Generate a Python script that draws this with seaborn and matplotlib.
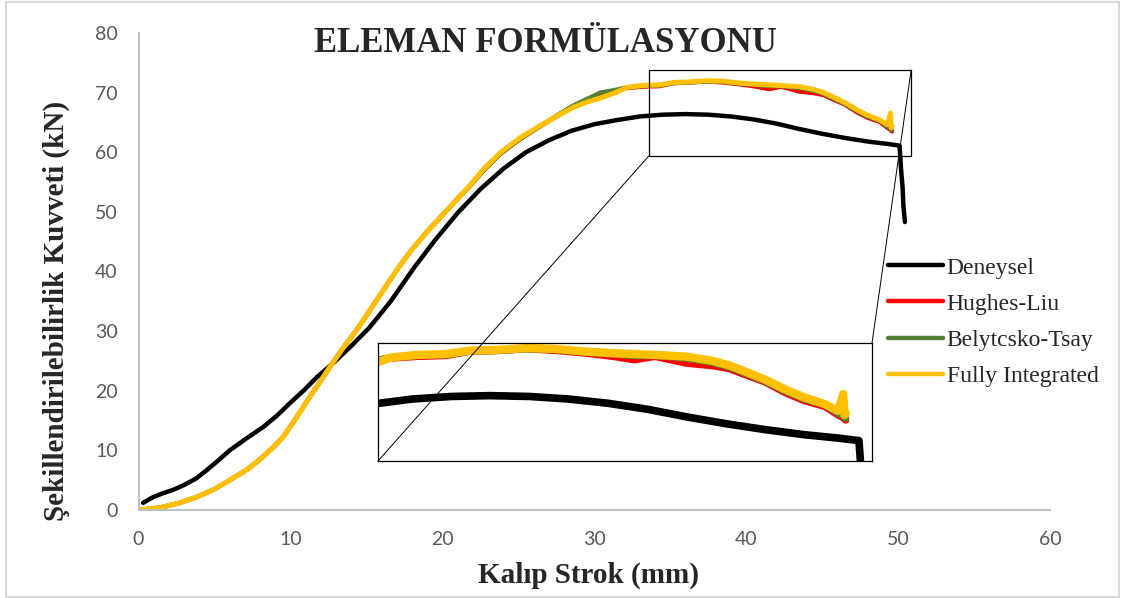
import numpy as np
import pandas as pd
import matplotlib
matplotlib.use("Agg")
import matplotlib.pyplot as plt
from matplotlib.lines import Line2D
from matplotlib.patches import Rectangle, ConnectionPatch
import seaborn as sns

# --- measured force–stroke curve ---------------------------------------------
deneysel_x = [0.3, 1.0, 1.6, 2.3, 3.0, 3.8, 4.5, 5.2, 6.0, 7.1, 8.2, 9.1, 10.0,
              10.9, 11.75, 12.8, 14.0, 15.2, 16.6, 18.1, 19.5, 21.0, 22.5, 24.0,
              25.5, 27.0, 28.5, 30.0, 31.5, 33.0, 34.5, 36.0, 37.5, 39.0, 40.5,
              42.0, 43.5, 45.0, 46.5, 48.0, 49.3, 50.1, 50.15, 50.2, 50.3, 50.35,
              50.45]
deneysel_y = [1.2, 2.2, 2.8, 3.4, 4.2, 5.3, 6.7, 8.2, 10.0, 12.0, 13.9, 15.8, 18.0,
              20.1, 22.3, 24.6, 27.5, 30.6, 35.0, 40.5, 45.2, 49.8, 53.8, 57.2,
              60.0, 62.0, 63.6, 64.7, 65.4, 66.0, 66.3, 66.4, 66.3, 66.0, 65.5,
              64.8, 63.9, 63.1, 62.4, 61.8, 61.4, 61.1, 59.0, 57.0, 54.0, 51.0,
              48.3]

# --- simulated curves (shared stroke positions) -------------------------------
sim_x = [0.0, 0.8, 1.6, 2.7, 3.85, 5.0, 6.0, 7.1, 8.0, 8.9, 9.5, 10.0, 10.6, 11.2,
         11.9, 12.6, 13.5, 14.45, 15.7, 17.1, 18.0, 19.0, 20.2, 21.0, 21.8, 22.8,
         23.8, 25.1, 26.4, 27.5, 28.6, 29.5, 30.4, 31.3, 32.2, 33.2, 34.3, 35.2,
         36.3, 37.4, 38.5, 39.6, 40.7, 41.5, 42.3, 43.5, 44.5, 45.1, 45.7, 46.5,
         47.3, 48.0, 48.8, 49.3, 49.5, 49.55, 49.6]

fully_y = [0.0, 0.2, 0.5, 1.2, 2.2, 3.5, 5.0, 6.7, 8.5, 10.6, 12.2, 14.0, 16.3,
           18.7, 21.3, 24.0, 27.3, 30.5, 35.3, 40.6, 43.7, 46.7, 50.0, 52.2, 54.4,
           57.4, 59.9, 62.4, 64.4, 66.0, 67.5, 68.4, 69.1, 69.9, 70.9, 71.2, 71.3,
           71.7, 71.8, 72.0, 71.9, 71.6, 71.4, 71.3, 71.2, 71.0, 70.5, 70.0, 69.3,
           68.3, 67.1, 66.2, 65.4, 64.6, 66.6, 64.1, 64.3]

belytschko_y = [0.0, 0.2, 0.5, 1.2, 2.2, 3.5, 5.0, 6.7, 8.5, 10.6, 12.2, 14.0, 16.3,
                18.7, 21.3, 24.0, 27.3, 30.5, 35.3, 40.6, 43.7, 46.7, 50.0, 52.2, 54.3,
                57.2, 59.7, 62.2, 64.3, 66.1, 67.8, 68.9, 70.0, 70.4, 70.9, 71.1, 71.2,
                71.6, 71.7, 71.9, 71.8, 71.5, 71.3, 71.1, 71.1, 70.8, 70.3, 69.8, 69.1,
                68.1, 66.9, 66.0, 65.3, 64.3, 64.0, 63.8, 63.7]

hughes_y = [0.0, 0.2, 0.5, 1.2, 2.2, 3.5, 5.0, 6.7, 8.5, 10.6, 12.2, 14.0, 16.3,
            18.7, 21.3, 24.0, 27.3, 30.5, 35.3, 40.6, 43.7, 46.7, 50.0, 52.2, 54.3,
            57.2, 59.7, 62.2, 64.3, 66.0, 67.7, 68.8, 69.9, 70.3, 70.8, 71.0, 71.1,
            71.6, 71.7, 71.9, 71.7, 71.4, 71.0, 70.6, 71.0, 70.2, 69.9, 69.6, 68.9,
            68.0, 66.7, 65.8, 65.1, 64.1, 63.8, 63.6, 63.5]

series_names = ["Deneysel", "Hughes-Liu", "Belytcsko-Tsay", "Fully Integrated"]
series_colors = ["#000000", "#ff0000", "#548235", "#ffc000"]

x_ticks = [0, 10, 20, 30, 40, 50, 60]
y_ticks = [0, 10, 20, 30, 40, 50, 60, 70, 80]

# zoom window marked on the main axes and the limits of the magnified view
zoom_box_x = (33.6, 50.86)
zoom_box_y = (59.4, 73.8)
inset_xlim = (31.7, 50.6)
inset_ylim = (58.7, 72.6)

frames = [pd.DataFrame({"strok": deneysel_x, "kuvvet": deneysel_y, "seri": series_names[0]})]
for name, ys in zip(series_names[1:], [hughes_y, belytschko_y, fully_y]):
    frames.append(pd.DataFrame({"strok": sim_x, "kuvvet": ys, "seri": name}))
df = pd.concat(frames, ignore_index=True)

sns.set_style("white")
plt.rcParams["font.family"] = ["Liberation Serif", "DejaVu Serif"]

W, H = 1126, 598
fig = plt.figure(figsize=(W / 100, H / 100), dpi=100)
ax = fig.add_axes([138.5 / W, 1 - 510 / H, (1050 - 138.5) / W, (510 - 33) / H])

main_lw = [3.2, 3.2, 3.2, 3.6]
for name, color, lw in zip(series_names, series_colors, main_lw):
    sns.lineplot(data=df[df["seri"] == name], x="strok", y="kuvvet", color=color,
                 linewidth=lw, sort=False, estimator=None, ax=ax, legend=False)

ax.set_xlim(0, 60)
ax.set_ylim(0, 80)
ax.set_xticks(x_ticks)
ax.set_yticks(y_ticks)
tick_font = {"family": "Lato", "size": 14, "color": "#595959"}
ax.set_xticklabels([str(t) for t in x_ticks], fontdict=tick_font)
ax.set_yticklabels([str(t) for t in y_ticks], fontdict=tick_font)
ax.tick_params(axis="both", length=0, pad=15)
for side in ["top", "right"]:
    ax.spines[side].set_visible(False)
for side in ["left", "bottom"]:
    ax.spines[side].set_color("#bfbfbf")
    ax.spines[side].set_linewidth(1.5)

ax.set_xlabel("Kalıp Strok (mm)", fontsize=21, fontweight="bold")
ax.set_ylabel("Şekillendirilebilirlik Kuvveti (kN)", fontsize=21, fontweight="bold")
ax.xaxis.set_label_coords((588 - 138.5) / (1050 - 138.5), -(562 - 510) / (510 - 33))
ax.yaxis.set_label_coords(-(138.5 - 70) / (1050 - 138.5), (510 - 311) / (510 - 33))

fig.text(545 / W, 1 - 43 / H, "ELEMAN FORMÜLASYONU", ha="center", va="center",
         fontsize=25, fontweight="bold")

# rectangle marking the magnified region
ax.add_patch(Rectangle((zoom_box_x[0], zoom_box_y[0]), zoom_box_x[1] - zoom_box_x[0],
                       zoom_box_y[1] - zoom_box_y[0], fill=False, ec="black", lw=0.9, zorder=5))

# magnified view
axins = fig.add_axes([378 / W, 1 - 461 / H, (872 - 378) / W, (461 - 343) / H])
axins.set_facecolor("white")
inset_lw = [5.5, 5.0, 5.0, 6.0]
for name, color, lw in zip(series_names, series_colors, inset_lw):
    sns.lineplot(data=df[df["seri"] == name], x="strok", y="kuvvet", color=color,
                 linewidth=lw, sort=False, estimator=None, ax=axins, legend=False)
axins.set_xlim(*inset_xlim)
axins.set_ylim(*inset_ylim)
axins.set_xticks([])
axins.set_yticks([])
axins.set_xlabel("")
axins.set_ylabel("")
for sp in axins.spines.values():
    sp.set_visible(True)
    sp.set_color("black")
    sp.set_linewidth(0.9)

# connector lines between the marked window and the magnified view
for xy_data, xy_ax in [((zoom_box_x[0], zoom_box_y[0]), (0, 0)),
                       ((zoom_box_x[1], zoom_box_y[1]), (1, 1))]:
    con = ConnectionPatch(xyA=xy_data, coordsA=ax.transData, xyB=xy_ax,
                          coordsB=axins.transAxes, color="black", lw=0.7, zorder=10)
    fig.add_artist(con)

handles = [Line2D([0], [0], color=c, lw=3.2) for c in series_colors]
fig.legend(handles, series_names, loc="upper left",
           bbox_to_anchor=(888 / W, 1 - 257 / H), frameon=False, fontsize=17,
           handlelength=2.33, handletextpad=0.15, labelspacing=0.62,
           borderpad=0, borderaxespad=0)

# light frame around the whole figure
fig.add_artist(Rectangle((6 / W, 1 / H), (1119 - 6) / W, (596 - 1) / H,
                         transform=fig.transFigure, fill=False, ec="#d9d9d9", lw=1.5))

fig.savefig("out.png", dpi=100)
